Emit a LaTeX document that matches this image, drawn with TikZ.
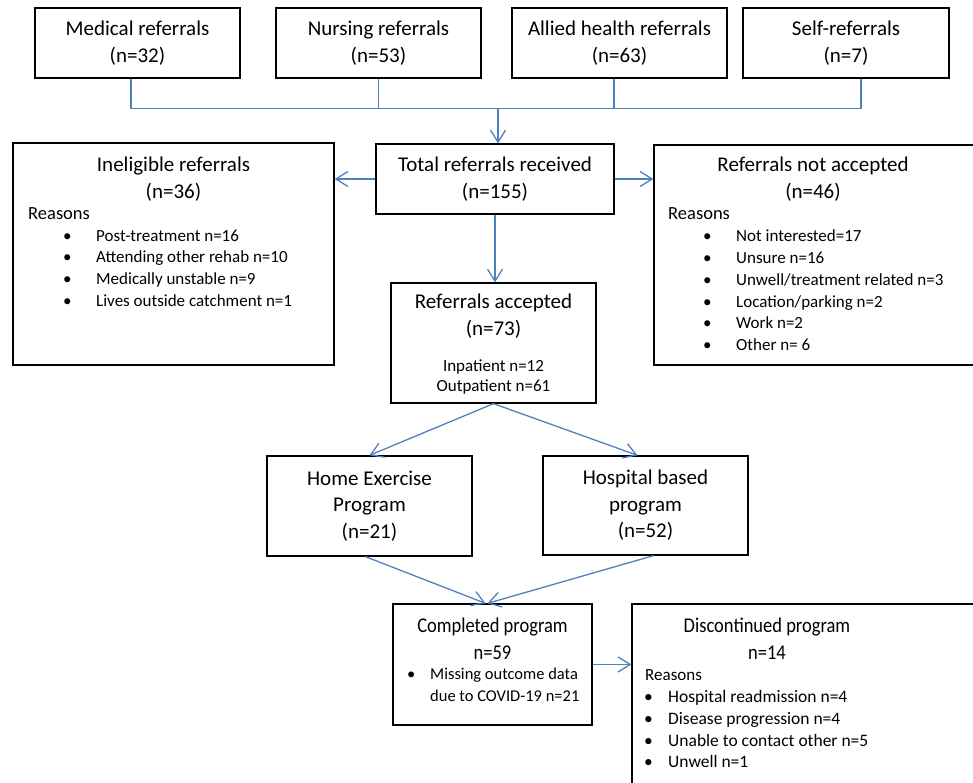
\documentclass[tikz,border=0pt]{standalone}
\usepackage{fontspec}
\setmainfont{Carlito}
\newfontfamily\narrowfont[FakeStretch=0.88]{Carlito}
\usetikzlibrary{arrows.meta}
\definecolor{linkblue}{RGB}{79,129,189}
\newcommand{\bul}[1]{\makebox[#1][l]{\textbullet}}
\begin{document}
\begin{tikzpicture}[x=1pt, y=-1pt]
            \tikzstyle{box} = [draw, line width=1.3pt, inner sep=0pt, align=center, font=\fontsize{21}{26.5}\selectfont]
            \tikzstyle{link} = [draw=linkblue, line width=1.3pt]
            \tikzstyle{flow} = [link, -{Straight Barb[length=12pt, width=15pt, line width=1.3pt]}]
            \tikzstyle{title} = [inner sep=0pt, align=center, font=\fontsize{21}{27}\selectfont]
            \tikzstyle{low title} = [inner sep=0pt, align=center, font=\narrowfont\fontsize{21}{27}\selectfont]
            \tikzstyle{reason} = [inner sep=0pt, anchor=west, text height=13pt, text depth=4pt, font=\fontsize{18.5}{21}\selectfont]
            \tikzstyle{item} = [inner sep=0pt, anchor=west, text height=12pt, text depth=3.5pt, font=\fontsize{17}{21}\selectfont]
            \path[use as bounding box, clip] (0, 0) rectangle (973, 783);
            % referral sources
            \node[box, minimum width=205pt, minimum height=70pt] (med) at (137.5, 43) {Medical referrals\\(n=32)};
            \node[box, minimum width=205pt, minimum height=70pt] (nurs) at (378.5, 43) {Nursing referrals\\(n=53)};
            \node[box, minimum width=215pt, minimum height=70pt] (allied) at (619.5, 43) {Allied health referrals\\(n=63)};
            \node[box, minimum width=206pt, minimum height=70pt] (self) at (846, 43) {Self-referrals\\(n=7)};
            \draw[link] ([xshift=-6.5pt]med.south) -- ++(0, 30) -| ([xshift=15pt]self.south);
            \draw[link] (nurs.south) -- ++(0, 30);
            \draw[link] ([xshift=-5.5pt]allied.south) -- ++(0, 30);
            \coordinate (bus) at (498, 108);
            % total
            \node[box, minimum width=238pt, minimum height=70pt] (total) at (495, 179) {Total referrals received\\(n=155)};
            \draw[flow] (bus) -- (bus |- total.north);
            % ineligible
            \node[box, minimum width=321pt, minimum height=222pt] (inel) at (173.5, 254) {};
            \node[title] (inelTitle) at (173.5, 179) {Ineligible referrals\\(n=36)};
            \node[reason] (inelR) at (28, 215) {Reasons};
            \node[item] (inel1) at (63, 237) {\bul{33pt}Post-treatment n=16};
            \node[item] (inel2) at (63, 258.5) {\bul{33pt}Attending other rehab n=10};
            \node[item] (inel3) at (63, 280) {\bul{33pt}Medically unstable n=9};
            \node[item] (inel4) at (63, 302) {\bul{33pt}Lives outside catchment n=1};
            \draw[flow] (total.west) -- (total.west -| inel.east);
            % not accepted
            \node[box, minimum width=336pt, minimum height=220pt] (notacc) at (822, 255) {};
            \node[title] (notaccTitle) at (813, 179) {Referrals not accepted\\(n=46)};
            \node[reason] (notaccR) at (668, 215) {Reasons};
            \node[item] (notacc1) at (703, 237) {\bul{33pt}Not interested=17};
            \node[item] (notacc2) at (703, 259) {\bul{33pt}Unsure n=16};
            \node[item] (notacc3) at (703, 281) {\bul{33pt}Unwell/treatment related n=3};
            \node[item] (notacc4) at (703, 303) {\bul{33pt}Location/parking n=2};
            \node[item] (notacc5) at (703, 324) {\bul{33pt}Work n=2};
            \node[item] (notacc6) at (703, 346) {\bul{33pt}Other n= 6};
            \draw[flow] (total.east) -- (total.east -| notacc.west);
            % accepted
            \node[box, minimum width=205pt, minimum height=120pt] (acc) at (493.5, 343) {};
            \node[title] (accTitle) at (493.5, 316.5) {Referrals accepted\\(n=73)};
            \node[inner sep=0pt, align=center, font=\fontsize{17}{20.5}\selectfont] (accSplit) at (493.5, 377) {Inpatient n=12\\Outpatient n=61};
            \draw[flow] (total.south) -- (total.south |- acc.north);
            % programs
            \node[box, minimum width=205pt, minimum height=100pt] (home) at (369.5, 506) {Home Exercise\\Program\\(n=21)};
            \node[box, minimum width=205pt, minimum height=99pt] (hosp) at (645.5, 505.5) {Hospital based\\program\\(n=52)};
            \draw[flow] (acc.south) -- (home.north);
            \draw[flow] (acc.south) -- ([xshift=-8pt]hosp.north);
            % completed
            \node[box, minimum width=199pt, minimum height=121pt] (comp) at (492.5, 664.5) {};
            \node[low title] (compTitle) at (492.5, 638.5) {Completed program\\n=59};
            \node[item, font=\fontsize{16.5}{21}\selectfont] (comp1) at (407, 675) {\bul{23pt}Missing outcome data};
            \node[item, font=\fontsize{16.5}{21}\selectfont] (comp2) at (430, 697) {due to COVID-19 n=21};
            \draw[flow] ([xshift=-4pt]home.south) -- ([xshift=-7pt]comp.north);
            \draw[flow] ([xshift=8pt]hosp.south) -- ([xshift=-5pt]comp.north);
            % discontinued
            \node[box, minimum width=358pt, minimum height=206pt] (disc) at (811, 707) {};
            \node[low title] (discTitle) at (767, 638.5) {Discontinued program\\n=14};
            \node[reason, font=\fontsize{17}{21}\selectfont] (discR) at (645, 676) {Reasons};
            \node[item, font=\fontsize{17.5}{21}\selectfont] (disc1) at (644, 698) {\bul{24pt}Hospital readmission n=4};
            \node[item, font=\fontsize{17.5}{21}\selectfont] (disc2) at (644, 720) {\bul{24pt}Disease progression n=4};
            \node[item, font=\fontsize{17.5}{21}\selectfont] (disc3) at (644, 742) {\bul{24pt}Unable to contact other n=5};
            \node[item, font=\fontsize{17.5}{21}\selectfont] (disc4) at (644, 763) {\bul{24pt}Unwell n=1};
            \draw[flow] (comp.east) -- (comp.east -| disc.west);
        \end{tikzpicture}
\end{document}
